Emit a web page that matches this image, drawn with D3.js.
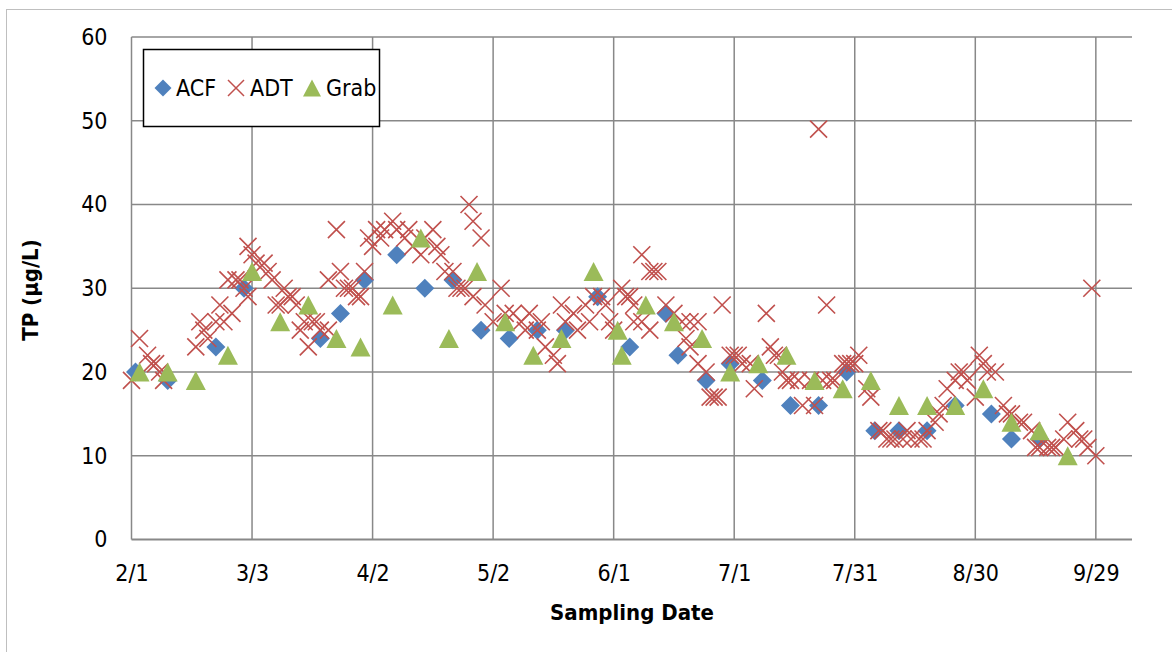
<!DOCTYPE html>
<html>
  <head>
    <meta charset="utf-8" />
    <title>TP by sampling date</title>
    <script src="https://d3js.org/d3.v7.min.js"></script>
    <style>
      body { margin: 0; background: #fff; }
      text { font-family: "Liberation Sans Narrow", "Arial Narrow", "DejaVu Sans Condensed", sans-serif; }
    </style>
  </head>
  <body>
    <svg width="1172" height="652"></svg>

    <script>
      // Tick labels (every 30 days) and y ticks
      const xTicks = ["2/1", "3/3", "4/2", "5/2", "6/1", "7/1", "7/31", "8/30", "9/29"];
      const yTicks = [0, 10, 20, 30, 40, 50, 60];

      // ACF composite samples
      const acfDates = ["2/2", "2/10", "2/22", "3/1", "3/20", "3/25", "3/31", "4/8", "4/15", "4/22",
        "4/29", "5/6", "5/13", "5/20", "5/28", "6/5", "6/14", "6/17", "6/24", "6/30",
        "7/8", "7/15", "7/22", "7/29", "8/5", "8/11", "8/18", "8/25", "9/3", "9/8", "9/15"];
      const acfValues = [20, 19, 23, 30, 24, 27, 31, 34, 30, 31,
        25, 24, 25, 25, 29, 23, 27, 22, 19, 21,
        19, 16, 16, 20, 13, 13, 13, 16, 15, 12, 12];

      // ADT samples
      const adtDates = ["2/1", "2/3", "2/5", "2/6", "2/7", "2/8", "2/9",
        "2/17", "2/18", "2/19", "2/20", "2/22", "2/23", "2/24", "2/25", "2/26", "2/27", "2/28",
        "3/1", "3/2", "3/2", "3/3", "3/4", "3/6", "3/7", "3/8", "3/9", "3/10", "3/11", "3/12",
        "3/13", "3/14", "3/15", "3/16", "3/17", "3/18", "3/19", "3/20", "3/22", "3/22",
        "3/24", "3/25", "3/26", "3/27", "3/28", "3/29", "3/30", "3/31",
        "4/1", "4/2", "4/3", "4/4", "4/5", "4/7", "4/8", "4/10", "4/11", "4/12", "4/14", "4/15",
        "4/17", "4/18", "4/19", "4/20", "4/22", "4/23", "4/24", "4/25", "4/26", "4/27", "4/27",
        "4/29", "4/30", "5/2", "5/4", "5/5", "5/7", "5/9", "5/10", "5/11", "5/13", "5/14",
        "5/15", "5/17", "5/18", "5/19", "5/20", "5/22", "5/23", "5/25", "5/26", "5/27",
        "5/29", "5/30", "5/31", "6/1", "6/3", "6/4", "6/5", "6/6", "6/6", "6/8", "6/8",
        "6/10", "6/10", "6/11", "6/12", "6/14", "6/16", "6/18", "6/19", "6/20", "6/20",
        "6/22", "6/22", "6/24", "6/25", "6/26", "6/27", "6/28", "6/30",
        "7/1", "7/2", "7/3", "7/5", "7/6", "7/9", "7/10", "7/11", "7/12", "7/13", "7/14",
        "7/15", "7/17", "7/18", "7/20", "7/21", "7/22", "7/23", "7/24", "7/25", "7/26",
        "7/28", "7/29", "7/30", "7/31", "8/1", "8/3", "8/4", "8/6", "8/7", "8/8", "8/9",
        "8/10", "8/12", "8/13", "8/14", "8/16", "8/17", "8/18", "8/20", "8/21", "8/22",
        "8/23", "8/25", "8/26", "8/27", "8/28", "8/30", "8/31", "9/1", "9/2", "9/4",
        "9/6", "9/7", "9/8", "9/10", "9/11", "9/13", "9/14", "9/15", "9/17", "9/18", "9/19",
        "9/21", "9/22", "9/24", "9/25", "9/26", "9/27", "9/28", "9/29"];
      const adtValues = [19, 24, 22, 21, 21, 20, 19,
        23, 26, 25, 24, 26, 28, 26, 31, 27, 31, 31,
        30, 35, 29, 34, 33, 33, 32, 31, 28, 28, 30, 29,
        29, 28, 25, 26, 23, 26, 26, 25, 25, 31,
        37, 32, 30, 30, 30, 29, 29, 32,
        36, 35, 37, 36, 37, 38, 37, 36, 37, 35, 34, 36,
        37, 35, 34, 32, 32, 30, 30, 30, 40, 38, 29,
        36, 28, 26, 30, 27, 27, 26, 25, 27, 25, 26,
        23, 22, 21, 28, 26, 27, 25, 28, 26, 29,
        29, 28, 26, 25, 30, 29, 29, 28, 26, 34, 26,
        32, 25, 32, 32, 28, 27, 26, 24, 26, 23,
        26, 21, 20, 17, 17, 17, 28, 22,
        22, 22, 21, 21, 18, 27, 23, 22, 22, 20, 19,
        19, 19, 16, 19, 16, 49, 19, 28, 19, 19,
        21, 21, 21, 21, 22, 18, 17, 13, 13, 12, 12,
        12, 12, 13, 12, 12, 12, 13, 14, 15, 16,
        18, 19, 20, 20, 19, 17, 22, 21, 20, 20,
        16, 15, 15, 14, 14, 13, 11, 11, 11, 11, 11,
        12, 14, 13, 12, 12, 11, 30, 10];

      // Grab samples
      const grabDates = ["2/3", "2/10", "2/17", "2/25", "3/3", "3/10", "3/17", "3/24", "3/30", "4/7",
        "4/14", "4/21", "4/28", "5/5", "5/12", "5/19", "5/27", "6/2", "6/3", "6/9",
        "6/16", "6/23", "6/30", "7/7", "7/14", "7/21", "7/28", "8/4", "8/11", "8/18",
        "8/25", "9/1", "9/8", "9/15", "9/22"];
      const grabValues = [20, 20, 19, 22, 32, 26, 28, 24, 23, 28,
        36, 24, 32, 26, 22, 24, 32, 25, 22, 28,
        26, 24, 20, 21, 22, 19, 18, 19, 16, 16,
        16, 18, 14, 13, 10];

      const year = 2011;
      const parse = d3.timeParse("%m/%d/%Y");
      const toDate = (s) => parse(s + "/" + year);
      const zip = (ds, vs) => ds.map((d, i) => ({ date: toDate(d), value: vs[i] }));

      const acf = zip(acfDates, acfValues);
      const adt = zip(adtDates, adtValues);
      const grab = zip(grabDates, grabValues);

      const svg = d3.select("svg");
      const font = '"Liberation Sans Narrow", "Arial Narrow", "DejaVu Sans Condensed", sans-serif';

      // chart area border
      svg.append("rect")
        .attr("x", 6.5).attr("y", 9.5)
        .attr("width", 1200).attr("height", 700)
        .attr("fill", "#fff")
        .attr("stroke", "#bfbfbf");

      const x = d3.scaleTime()
        .domain([toDate("2/1"), toDate("10/8")])
        .range([131.5, 1132]);
      const y = d3.scaleLinear().domain([0, 60]).range([539.5, 37]);

      const gridColor = "#888888";

      // horizontal gridlines
      svg.append("g")
        .selectAll("line")
        .data(yTicks)
        .join("line")
        .attr("x1", x.range()[0])
        .attr("x2", x.range()[1])
        .attr("y1", (d) => y(d))
        .attr("y2", (d) => y(d))
        .attr("stroke", gridColor)
        .attr("stroke-width", (d) => (d === 0 ? 2 : 1.5));

      // vertical gridlines
      svg.append("g")
        .selectAll("line")
        .data(xTicks)
        .join("line")
        .attr("x1", (d) => x(toDate(d)))
        .attr("x2", (d) => x(toDate(d)))
        .attr("y1", y(60))
        .attr("y2", y(0))
        .attr("stroke", gridColor)
        .attr("stroke-width", 1.5);

      // axes (labels only, Excel style)
      const yAxis = svg.append("g")
        .attr("transform", `translate(${x.range()[0]},0)`)
        .call(d3.axisLeft(y).tickValues(yTicks).tickSize(0).tickPadding(24));
      const xAxis = svg.append("g")
        .attr("transform", `translate(0,${y(0)})`)
        .call(d3.axisBottom(x).tickValues(xTicks.map(toDate)).tickSize(0).tickPadding(25)
          .tickFormat(d3.timeFormat("%-m/%-d")));
      [yAxis, xAxis].forEach((g) => {
        g.select(".domain").remove();
        g.selectAll("text")
          .attr("font-family", font)
          .attr("font-size", 23)
          .attr("fill", "#000");
      });

      // axis titles
      svg.append("text")
        .attr("x", 632).attr("y", 620)
        .attr("text-anchor", "middle")
        .attr("font-family", font)
        .attr("font-size", 22)
        .attr("font-weight", "bold")
        .text("Sampling Date");
      svg.append("text")
        .attr("transform", "translate(38,290) rotate(-90)")
        .attr("text-anchor", "middle")
        .attr("font-family", font)
        .attr("font-size", 22)
        .attr("font-weight", "bold")
        .text("TP (µg/L)");

      // marker shapes
      const diamond = (r) => `M0,${-r}L${r},0L0,${r}L${-r},0Z`;
      const triangle = (w, h) => `M0,${-h / 2}L${w / 2},${h / 2}L${-w / 2},${h / 2}Z`;
      const cross = (r) => `M${-r},${-r}L${r},${r}M${-r},${r}L${r},${-r}`;

      const colors = { acf: "#4f81bd", adt: "#c0504d", grab: "#9bbb59" };

      svg.append("g")
        .selectAll("path")
        .data(acf)
        .join("path")
        .attr("transform", (d) => `translate(${x(d.date)},${y(d.value)})`)
        .attr("d", diamond(9.5))
        .attr("fill", colors.acf);

      svg.append("g")
        .selectAll("path")
        .data(adt)
        .join("path")
        .attr("transform", (d) => `translate(${x(d.date)},${y(d.value)})`)
        .attr("d", cross(8.5))
        .attr("fill", "none")
        .attr("stroke", colors.adt)
        .attr("stroke-width", 1.6);

      svg.append("g")
        .selectAll("path")
        .data(grab)
        .join("path")
        .attr("transform", (d) => `translate(${x(d.date)},${y(d.value)})`)
        .attr("d", triangle(20, 19))
        .attr("fill", colors.grab);

      // legend
      const legend = svg.append("g");
      legend.append("rect")
        .attr("x", 143.5).attr("y", 49.5)
        .attr("width", 236).attr("height", 77)
        .attr("fill", "#fff")
        .attr("stroke", "#000")
        .attr("stroke-width", 1.5);

      const items = [
        { name: "ACF", mx: 163, tx: 176, d: diamond(8.5), fill: colors.acf, stroke: "none" },
        { name: "ADT", mx: 236, tx: 250, d: cross(8), fill: "none", stroke: colors.adt },
        { name: "Grab", mx: 312, tx: 326, d: triangle(18, 17), fill: colors.grab, stroke: "none" },
      ];
      items.forEach((it) => {
        legend.append("path")
          .attr("transform", `translate(${it.mx},88)`)
          .attr("d", it.d)
          .attr("fill", it.fill)
          .attr("stroke", it.stroke)
          .attr("stroke-width", 1.5);
        legend.append("text")
          .attr("x", it.tx).attr("y", 96)
          .attr("font-family", font)
          .attr("font-size", 23)
          .text(it.name);
      });
    </script>
  </body>
</html>
